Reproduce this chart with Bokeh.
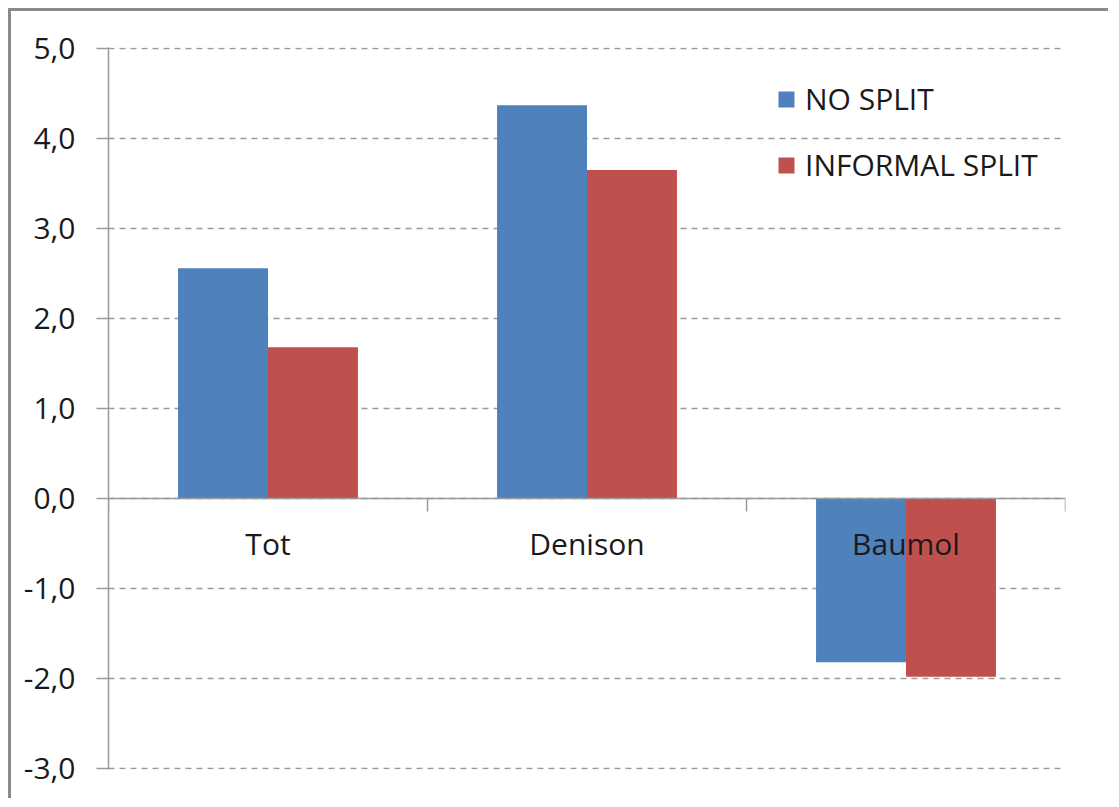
from bokeh.plotting import figure
from bokeh.models import Range1d, FixedTicker, Span, Legend, LegendItem
from bokeh.core.properties import value
from bokeh.embed import file_html
from bokeh.resources import INLINE

categories = ["Tot", "Denison", "Baumol"]
no_split = [2.56, 4.37, -1.82]
informal_split = [1.68, 3.65, -1.98]
y_ticks = [-3, -2, -1, 0, 1, 2, 3, 4, 5]
series_names = ["NO SPLIT", "INFORMAL SPLIT"]
colors = ["#4F81BD", "#C0504D"]

FONT = "Open Sans"
TXT = "#1a1a1a"
GRAY = "#9a9a9a"

p = figure(width=1100, height=790, output_backend="svg", toolbar_location=None,
           x_range=Range1d(0, len(categories)), y_range=Range1d(-3.012, 5.012),
           min_border_left=97, min_border_top=36, min_border_right=46, min_border_bottom=32,
           styles={"margin-left": "8px", "margin-top": "8px",
                   "border-left": "3px solid #8a8a8a", "border-top": "3px solid #8a8a8a"})
p.outline_line_color = None
p.background_fill_color = "white"
p.border_fill_color = "white"

centers = [i + 0.5 for i in range(len(categories))]
bw = 0.282
off = 0.141
r1 = p.vbar(x=[c - off for c in centers], top=no_split, bottom=0, width=bw,
            fill_color=colors[0], line_color=None)
r2 = p.vbar(x=[c + off for c in centers], top=informal_split, bottom=0, width=bw,
            fill_color=colors[1], line_color=None)

# x axis drawn at y = 0
p.xaxis.visible = False
p.xgrid.visible = False
p.add_layout(Span(location=0, dimension="width", line_color=GRAY, line_width=1.5))
bounds = list(range(len(categories) + 1))
p.ray(x=bounds, y=[0] * len(bounds), length=13, length_units="screen",
      angle=-90, angle_units="deg", line_color=GRAY, line_width=1.5)
p.text(x=centers, y=[0] * len(centers), text=categories, y_offset=45,
       text_align="center", text_baseline="middle", text_color=TXT,
       text_font=value(FONT), text_font_size="30px")

# y axis
p.yaxis.ticker = FixedTicker(ticks=y_ticks)
p.yaxis.major_label_overrides = {t: f"{t:.1f}".replace(".", ",") for t in y_ticks}
p.yaxis.major_label_text_font = FONT
p.yaxis.major_label_text_font_size = "30px"
p.yaxis.major_label_text_color = TXT
p.yaxis.major_label_standoff = 21
p.yaxis.major_tick_out = 12
p.yaxis.major_tick_in = 0
p.yaxis.minor_tick_line_color = None
p.yaxis.axis_line_color = GRAY
p.yaxis.axis_line_width = 1.5
p.yaxis.major_tick_line_color = GRAY
p.yaxis.major_tick_line_width = 1.5

p.ygrid.ticker = FixedTicker(ticks=y_ticks)
p.ygrid.grid_line_color = GRAY
p.ygrid.grid_line_dash = "6 5"
p.ygrid.grid_line_width = 1.5

legend = Legend(items=[LegendItem(label=series_names[0], renderers=[r1]),
                       LegendItem(label=series_names[1], renderers=[r2])],
                location=(668, 584), orientation="vertical",
                glyph_width=20, glyph_height=20, label_height=36, spacing=25,
                label_standoff=9, padding=0, margin=0,
                border_line_color=None, background_fill_alpha=0,
                label_text_font=FONT, label_text_font_size="30px", label_text_color=TXT)
p.add_layout(legend, "center")

open("out.html", "w").write(file_html(p, INLINE))
